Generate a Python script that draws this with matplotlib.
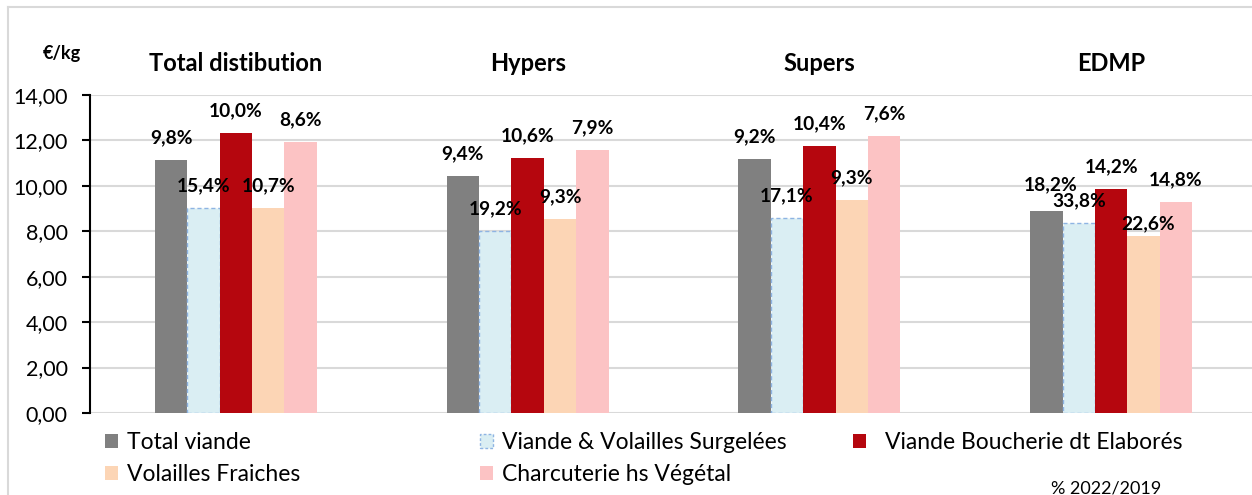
import matplotlib
matplotlib.use("Agg")
import matplotlib.pyplot as plt
from matplotlib.patches import Patch
from matplotlib.lines import Line2D
import numpy as np

plt.rcParams['font.family'] = ['Lato', 'DejaVu Sans']

categories = ["Total distibution", "Hypers", "Supers", "EDMP"]
series = ["Total viande", "Viande & Volailles Surgelées", "Viande Boucherie dt Elaborés",
          "Volailles Fraiches", "Charcuterie hs Végétal"]
total_viande = [11.14, 10.45, 11.18, 8.89]
surgelees = [9.01, 8.03, 8.57, 8.38]
boucherie = [12.31, 11.21, 11.76, 9.88]
volailles = [9.04, 8.54, 9.38, 7.79]
charcuterie = [11.92, 11.58, 12.20, 9.28]
pct_total_viande = ["9,8%", "9,4%", "9,2%", "18,2%"]
pct_surgelees = ["15,4%", "19,2%", "17,1%", "33,8%"]
pct_boucherie = ["10,0%", "10,6%", "10,4%", "14,2%"]
pct_volailles = ["10,7%", "9,3%", "9,3%", "22,6%"]
pct_charcuterie = ["8,6%", "7,9%", "7,6%", "14,8%"]
yticks = [0, 2, 4, 6, 8, 10, 12, 14]
ytick_labels = ["0,00", "2,00", "4,00", "6,00", "8,00", "10,00", "12,00", "14,00"]

values = [total_viande, surgelees, boucherie, volailles, charcuterie]
pcts = [pct_total_viande, pct_surgelees, pct_boucherie, pct_volailles, pct_charcuterie]
colors = ["#808080", "#DAEEF3", "#B5060E", "#FCD5B5", "#FCC3C4"]
edges = ["none", "#8EB4E3", "none", "none", "none"]
# label nudges (points) for a few crowded labels: (series index, category index) -> offset
label_nudge = {(0, 3): (3, 19), (3, 3): (3, 9)}

fig = plt.figure(figsize=(12.52, 4.95), dpi=100)
ax = fig.add_axes([90/1252, 82/495, (1257-90)/1252, 318/495])

x = np.arange(len(categories))
w = 0.111
for i, (vals, col, ec) in enumerate(zip(values, colors, edges)):
    pos = x + (i - 2) * w
    if ec != "none":
        ax.bar(pos, vals, w, color=col, edgecolor=ec, linestyle=(0, (3, 2)), linewidth=1.0, zorder=3)
    else:
        ax.bar(pos, vals, w, color=col, zorder=3)
    for j, (p, v) in enumerate(zip(pos, vals)):
        off = label_nudge.get((i, j), (0, 16))
        ax.annotate(pcts[i][j], (p, v), xytext=off, textcoords="offset points",
                    ha="center", va="center", fontsize=13.8, fontweight="bold", zorder=5)

ax.set_xlim(-0.5, 3.5)
ax.set_ylim(0, 14)
ax.set_yticks(yticks)
ax.set_yticklabels(ytick_labels, fontsize=15.5)
ax.set_xticks([])
ax.grid(axis="y", color="#D9D9D9", linewidth=1.5, zorder=0)
for s in ["top", "right", "bottom"]:
    ax.spines[s].set_visible(False)
ax.spines["left"].set_linewidth(1.5)
ax.tick_params(axis="y", length=6, width=1.5, pad=10)

for xi, c in zip(x, categories):
    ax.text(xi, 1.1, c, transform=ax.get_xaxis_transform(), ha="center", va="center",
            fontsize=17, fontweight="bold")
fig.text(62/1252, 1 - 53/495, "€/kg", ha="center", va="center", fontsize=13, fontweight="bold")

handles = []
for lab, col, ec in zip(series, colors, edges):
    if ec != "none":
        handles.append(Patch(facecolor=col, edgecolor=ec, linestyle=(0, (2, 1.5)), linewidth=1.0, label=lab))
    else:
        handles.append(Patch(facecolor=col, edgecolor="none", label=lab))

cols = [([handles[0], handles[3]], 105, 0.4), ([handles[1], handles[4]], 480, 0.4), ([handles[2]], 853, 0.85)]
for hs, px, pad in cols:
    fig.legend(handles=hs, loc="upper left", bbox_to_anchor=(px/1252, 1 - 432/495),
               frameon=False, fontsize=16.5, handlelength=0.55, handleheight=0.55,
               handletextpad=pad, labelspacing=0.5, borderaxespad=0, borderpad=0)

fig.text(1106/1252, 1 - 481/495, "% 2022/2019", ha="center", va="top", fontsize=13)

fig.add_artist(Line2D([8/1252, 1], [1 - 7/495, 1 - 7/495], color="#D9D9D9", linewidth=1.5))
fig.add_artist(Line2D([8/1252, 8/1252], [0, 1 - 7/495], color="#D9D9D9", linewidth=1.5))

fig.savefig("out.png", dpi=100)
